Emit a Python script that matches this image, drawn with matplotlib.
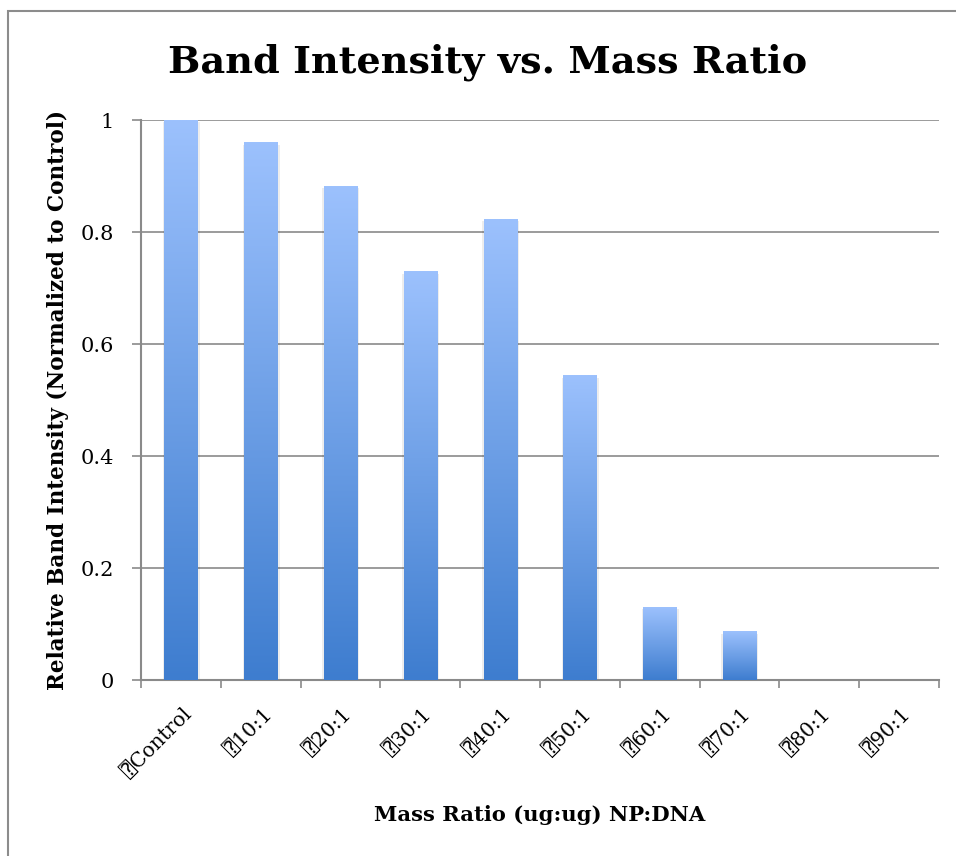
import numpy as np
import matplotlib
matplotlib.use("Agg")
import matplotlib.pyplot as plt
from matplotlib.colors import LinearSegmentedColormap
from matplotlib.patches import Rectangle

categories = ["Control", "10:1", "20:1", "30:1", "40:1", "50:1", "60:1", "70:1", "80:1", "90:1"]
intensity = [1.0, 0.959, 0.882, 0.729, 0.823, 0.543, 0.130, 0.086, 0.0, 0.0]
yticks = [0, 0.2, 0.4, 0.6, 0.8, 1]
ytick_labels = ["0", "0.2", "0.4", "0.6", "0.8", "1"]

serif = ["DejaVu Serif", "DejaVu Sans", "DejaVu Sans Mono"]
plt.rcParams["font.family"] = serif

grad = LinearSegmentedColormap.from_list("bar", ["#3e7dcf", "#9cc1fd"])
grid_c = "#8a8a8a"

fig = plt.figure(figsize=(9.56, 8.56), dpi=100)
# outer chart border (only top/left visible in the original)
fig.patches.append(Rectangle((8 / 956, -0.1), 1.2, 845 / 856 + 0.1, transform=fig.transFigure,
                             fill=False, edgecolor="#8c8c8c", linewidth=1.5))

ax = fig.add_axes([141 / 956, 176 / 856, 798 / 956, 560 / 856])

x = np.arange(len(categories))
width = 0.414
g = np.linspace(0, 1, 256).reshape(-1, 1)
for xi, v in zip(x, intensity):
    if v <= 0:
        continue
    # soft shadow
    ax.add_patch(Rectangle((xi - width / 2 - 0.02, -0.004), width + 0.05, v, color="#000000",
                           alpha=0.07, linewidth=0, zorder=2))
    ax.imshow(g, extent=[xi - width / 2, xi + width / 2, 0, v], origin="lower", aspect="auto",
              cmap=grad, zorder=3, interpolation="bilinear")

ax.set_xlim(-0.5, len(categories) - 0.5)
ax.set_ylim(0, 1)

ax.set_yticks(yticks)
ax.set_yticklabels(ytick_labels, fontsize=15)
ax.yaxis.grid(True, color=grid_c, linewidth=1.2, zorder=1)
ax.set_axisbelow(True)

# category boundaries get the tick marks, labels are placed at bar centres
ax.set_xticks(list(x - 0.5) + [len(categories) - 0.5])
ax.set_xticklabels([])
for xi, c in zip(x, categories):
    ax.text(xi + 0.02, -0.045, "\u2370" + c, rotation=45, rotation_mode="anchor", ha="right", va="top",
            fontsize=14.5, family=serif)

ax.tick_params(axis="x", length=6, width=1.2, color=grid_c, direction="out")
ax.tick_params(axis="y", length=6.5, width=1.2, color=grid_c, pad=13)

for s in ["top", "right"]:
    ax.spines[s].set_visible(False)
for s in ["left", "bottom"]:
    ax.spines[s].set_color(grid_c)
    ax.spines[s].set_linewidth(1.5)

fig.text(488 / 956, 1 - 62 / 856, "Band Intensity vs. Mass Ratio", ha="center", va="center",
         fontsize=27.5, fontweight="bold")
ax.set_ylabel("Relative Band Intensity (Normalized to Control)", fontsize=15.5, fontweight="bold")
ax.yaxis.set_label_coords(-72 / 798, 0.5)
fig.text(540 / 956, 1 - 815 / 856, "Mass Ratio (ug:ug) NP:DNA", ha="center", va="center",
         fontsize=15.2, fontweight="bold")

fig.savefig("out.png", dpi=100, facecolor="white")
